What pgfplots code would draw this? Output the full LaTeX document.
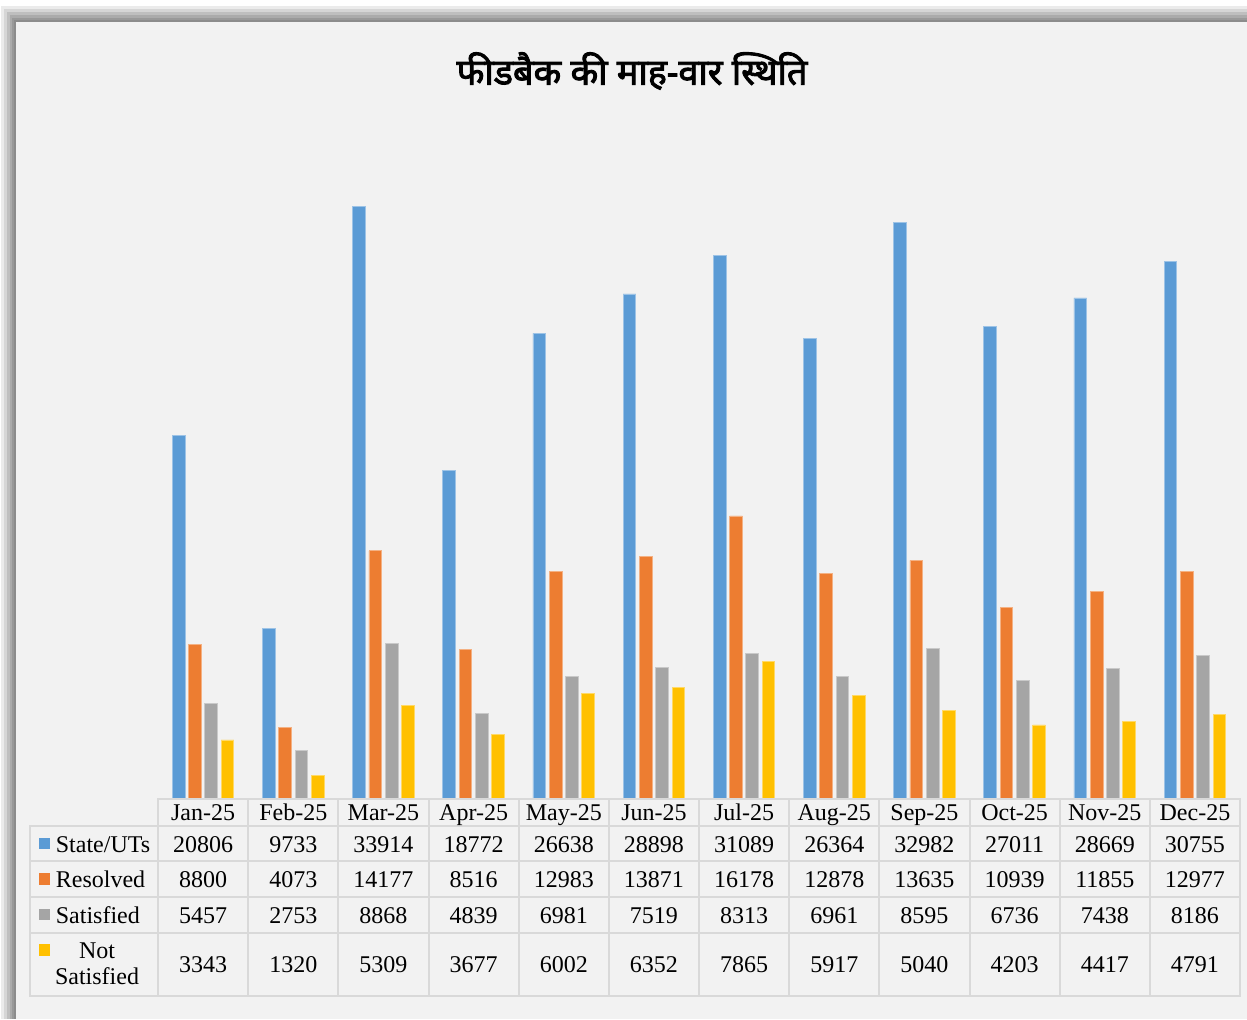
\documentclass[border=0pt]{standalone}
\usepackage{pgfplots}
\pgfplotsset{compat=1.18}
\usepackage{fontspec}
\setmainfont{Liberation Serif}
\newfontfamily\devfont[Script=Devanagari, FakeBold=2.5]{Noto Sans}
\definecolor{panel}{HTML}{F2F2F2}
\definecolor{grid}{HTML}{D9D9D9}
\definecolor{cA}{HTML}{5B9BD5}
\definecolor{cB}{HTML}{ED7D31}
\definecolor{cC}{HTML}{A5A5A5}
\definecolor{cD}{HTML}{FFC000}
\begin{document}
\begin{tikzpicture}
\useasboundingbox (0,0) rectangle (623.5pt,509.5pt);
\begin{scope}[x=0.5pt,y=-0.5pt,shift={(0pt,509.5pt)}]
\fill[white] (0,0) rectangle (1247,1019);
\fill[black!8] (1,6) rectangle (1247,1019);
\fill[black!16] (4,9) rectangle (1247,1019);
\fill[black!25] (7,12) rectangle (1247,1019);
\fill[black!33] (10,15) rectangle (1247,1019);
\fill[black!40] (12,18) rectangle (1247,1019);
\fill[black!45] (14,20) rectangle (1247,1019);
\fill[panel] (16,22) rectangle (1247,1019);
\node[font={\devfont\fontsize{18}{22}\selectfont}] at (632,71) {फीडबैक की माह-वार स्थिति};
\end{scope}
\begin{axis}[
  at={(79pt,110.35pt)}, anchor=south west,
  width=541pt, height=305.45pt, scale only axis,
  xmin=-0.5, xmax=11.5, ymin=0, ymax=35000,
  axis line style={draw=none}, ticks=none,
  ybar=1.8pt, bar width=6.35pt, clip=false,
]
\addplot[fill=cA, draw=cA!60!white, line width=0.4pt] coordinates {(0,20806) (1,9733) (2,33914) (3,18772) (4,26638) (5,28898) (6,31089) (7,26364) (8,32982) (9,27011) (10,28669) (11,30755)};
\addplot[fill=cB, draw=cB!60!white, line width=0.4pt] coordinates {(0,8800) (1,4073) (2,14177) (3,8516) (4,12983) (5,13871) (6,16178) (7,12878) (8,13635) (9,10939) (10,11855) (11,12977)};
\addplot[fill=cC, draw=cC!60!white, line width=0.4pt] coordinates {(0,5457) (1,2753) (2,8868) (3,4839) (4,6981) (5,7519) (6,8313) (7,6961) (8,8595) (9,6736) (10,7438) (11,8186)};
\addplot[fill=cD, draw=cD!60!white, line width=0.4pt] coordinates {(0,3343) (1,1320) (2,5309) (3,3677) (4,6002) (5,6352) (6,7865) (7,5917) (8,5040) (9,4203) (10,4417) (11,4791)};
\end{axis}
\begin{scope}[x=0.5pt,y=-0.5pt,shift={(0pt,509.5pt)}]
% table grid
\draw[grid, line width=1pt] (158,799) rectangle (1240,996);
\draw[grid, line width=1pt] (30,826) rectangle (158,996);
\foreach \y in {826,861,897,932.5} {\draw[grid, line width=1pt] (30,\y) -- (1240,\y);}
\foreach \i in {1,...,11} {\draw[grid, line width=1pt] ({158+90.17*\i},799) -- ({158+90.17*\i},996);}
\begin{scope}[every node/.style={font=\fontsize{12}{14}\selectfont, inner sep=0pt, anchor=base}]
\foreach \m [count=\i from 0] in {Jan-25,Feb-25,Mar-25,Apr-25,May-25,Jun-25,Jul-25,Aug-25,Sep-25,Oct-25,Nov-25,Dec-25}
  {\node at ({203.1+90.17*\i},820) {\m};}
\foreach \v [count=\i from 0] in {20806,9733,33914,18772,26638,28898,31089,26364,32982,27011,28669,30755}
  {\node at ({203.1+90.17*\i},852) {\v};}
\foreach \v [count=\i from 0] in {8800,4073,14177,8516,12983,13871,16178,12878,13635,10939,11855,12977}
  {\node at ({203.1+90.17*\i},887.5) {\v};}
\foreach \v [count=\i from 0] in {5457,2753,8868,4839,6981,7519,8313,6961,8595,6736,7438,8186}
  {\node at ({203.1+90.17*\i},923) {\v};}
\foreach \v [count=\i from 0] in {3343,1320,5309,3677,6002,6352,7865,5917,5040,4203,4417,4791}
  {\node at ({203.1+90.17*\i},972.5) {\v};}
\node[anchor=base west] at (55.5,852) {State/UTs};
\node[anchor=base west] at (55.5,887.5) {Resolved};
\node[anchor=base west] at (55.5,923) {Satisfied};
\node at (97,958) {Not};
\node at (97,984) {Satisfied};
\end{scope}
\fill[cA] (38.5,837.5) rectangle (50,849);
\fill[cB] (38.5,873) rectangle (50,884.5);
\fill[cC] (38.5,908.5) rectangle (50,920);
\fill[cD] (38.5,944) rectangle (50,955.5);
\end{scope}
\end{tikzpicture}
\end{document}
